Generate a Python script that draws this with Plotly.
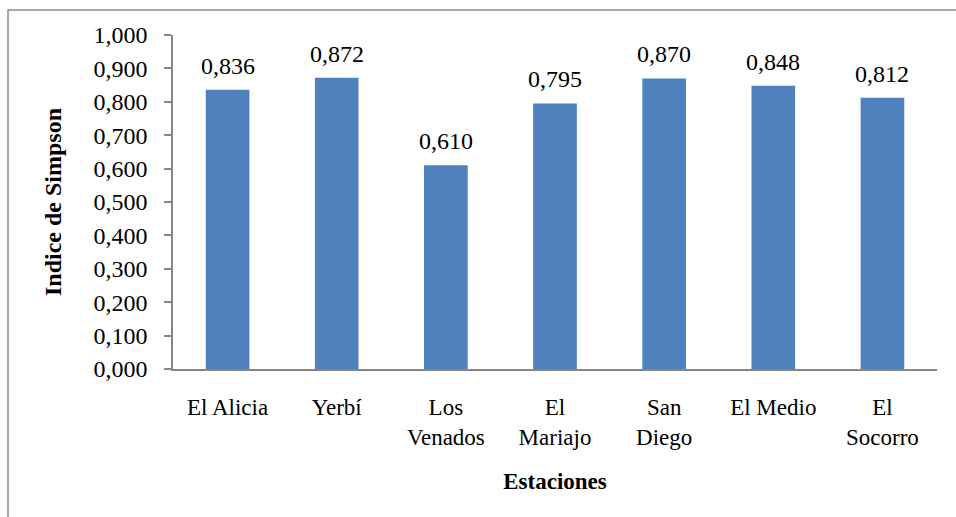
import plotly.graph_objects as go

# Simpson diversity index per sampling station
estaciones = ["El Alicia", "Yerbí", "Los<br>Venados", "El<br>Mariajo",
              "San<br>Diego", "El Medio", "El<br>Socorro"]
simpson = [0.836, 0.872, 0.610, 0.795, 0.870, 0.848, 0.812]
y_ticks = [0.0, 0.1, 0.2, 0.3, 0.4, 0.5, 0.6, 0.7, 0.8, 0.9, 1.0]

FONT = "Liberation Serif, Times New Roman, serif"
BAR = "#4F81BD"
AXIS = "#868686"

W, H = 956, 517
M_L, M_R, M_T, M_B = 173, 19, 35, 148
pw, ph = W - M_L - M_R, H - M_T - M_B

fig = go.Figure(go.Bar(
    x=estaciones, y=simpson, marker=dict(color=BAR, line=dict(width=0)),
    width=0.4, hoverinfo="x+y",
))

# value labels above each bar
for c, v in zip(estaciones, simpson):
    fig.add_annotation(x=c, y=v, text=f"{v:.3f}".replace(".", ","),
                       showarrow=False, yanchor="bottom", yshift=9,
                       font=dict(family=FONT, size=24, color="black"))

# outer chart frame
def px_x(p):
    return (p - M_L) / pw

def px_y(p):
    return (H - M_B - p) / ph

fig.add_shape(type="rect", xref="paper", yref="paper",
              x0=px_x(8), x1=px_x(W + 5), y0=px_y(10), y1=px_y(H + 5),
              line=dict(color="#8c8c8c", width=1.5), fillcolor="rgba(0,0,0,0)")

fig.update_layout(
    width=W, height=H,
    margin=dict(l=M_L, r=M_R, t=M_T, b=M_B, pad=0),
    paper_bgcolor="white", plot_bgcolor="white",
    separators=",.",
    showlegend=False,
    font=dict(family=FONT, color="black"),
    xaxis=dict(
        showline=True, linecolor=AXIS, linewidth=1.5, ticks="",
        tickfont=dict(family=FONT, size=23, color="black"),
        ticklabelstandoff=17,
        title=dict(text="<b>Estaciones</b>", font=dict(family=FONT, size=23),
                   standoff=24),
        range=[-0.5, 6.5], fixedrange=True,
    ),
    yaxis=dict(
        range=[0, 1.0], tickvals=y_ticks, tickformat=".3f",
        showline=True, linecolor=AXIS, linewidth=1.5,
        ticks="outside", ticklen=7, tickcolor=AXIS, tickwidth=1.5,
        showgrid=False, zeroline=False,
        tickfont=dict(family=FONT, size=24, color="black"),
        ticklabelstandoff=12,
        title=dict(text="<b>Indice de Simpson</b>",
                   font=dict(family=FONT, size=24), standoff=25),
        fixedrange=True,
    ),
)

fig.write_html("out.html")
